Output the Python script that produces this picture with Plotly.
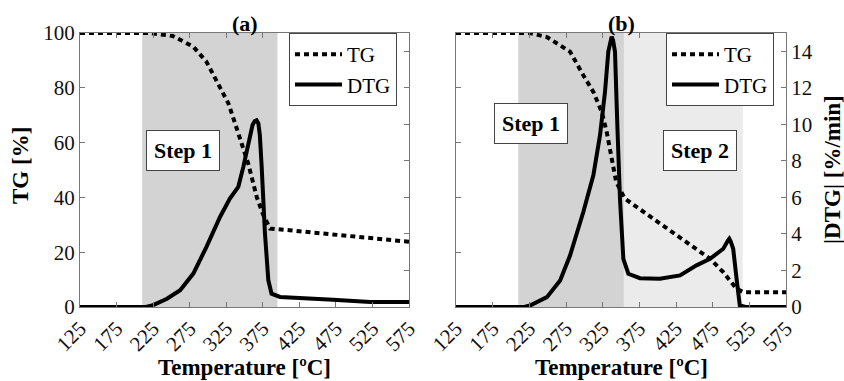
import plotly.graph_objects as go

# ---------------- data ----------------
# Panel (a)
a_tg_temp = [125, 175, 220, 252, 280, 298, 316, 328, 341.5, 355, 366.7, 375.8, 385, 412, 575]
a_tg_val = [100, 100, 100, 98.9, 95, 89.5, 80, 74.3, 63.4, 52.4, 40.2, 33.5, 28.6, 28.0, 23.8]

a_dtg_temp = [125, 175, 215, 225, 244, 262, 280, 298, 316.5, 330, 341.5, 348.4, 355, 361, 364,
              366.5, 369, 371, 373.5, 378, 382.6, 387, 398.6, 426, 471, 522, 575]
a_dtg_val = [0, 0, 0, 0.1, 0.45, 0.92, 1.83, 3.29, 4.93, 5.94, 6.58, 7.67, 8.95, 9.96, 10.18,
             10.22, 10.05, 9.4, 7.67, 4.02, 1.46, 0.73, 0.55, 0.51, 0.40, 0.27, 0.27]

# Panel (b)
b_tg_temp = [125, 175, 226, 249, 271, 280.5, 298.6, 312.3, 323.7, 330.5, 337.3, 343.5, 355, 394,
             439.6, 471.4, 489.5, 507.6, 516.8, 575]
b_tg_val = [100, 100, 100, 98.5, 95, 93.2, 84.6, 78.5, 71.2, 63.9, 54.2, 45.6, 39.6, 32.2,
            23.7, 17.6, 12.7, 6.65, 5.4, 5.4]

b_dtg_temp = [125, 175, 218, 226, 249, 267, 280.5, 298.6, 312.3, 321.4, 328.2, 332.7, 335.5, 337.3,
              339.2, 341.8, 345, 348.6, 353.2, 360, 375.9, 403, 430.5, 453, 471.4, 489.5, 496,
              497.7, 499.5, 503, 507.6, 512, 520, 575]
b_dtg_val = [0, 0, 0, 0.08, 0.54, 1.45, 2.82, 5.2, 7.21, 9.41, 11.78, 13.98, 14.6, 14.8,
             14.6, 13.98, 9.96, 5.93, 2.64, 1.82, 1.58, 1.55, 1.73, 2.28, 2.64, 3.19, 3.65,
             3.74, 3.6, 3.19, 1.55, 0.08, 0, 0]

# Step regions [start, end] in degC
a_step1 = [210, 395]
b_step1 = [210, 354]
b_step2 = [354, 516]

x_ticks = [125, 175, 225, 275, 325, 375, 425, 475, 525, 575]
tg_ticks = [0, 20, 40, 60, 80, 100]
dtg_ticks = [0, 2, 4, 6, 8, 10, 12, 14]

# label positions (temp, TG%)
a_step1_label = (266, 57)
b_step1_label = (227, 67)
b_step2_label = (458, 57)

# ---------------- figure ----------------
FONT = '"Liberation Serif", "Times New Roman", serif'
W, H = 844, 381
def px(x):
    return x / W
def py(y):
    return 1 - y / H

dom_a = [px(80), px(409)]
dom_b = [px(456), px(786)]
dom_y = [py(307), py(33)]

dot = dict(color="black", width=4, dash="5px,4px")
solid = dict(color="black", width=4)

fig = go.Figure()
fig.add_trace(go.Scatter(x=a_tg_temp, y=a_tg_val, mode="lines", line=dot, name="TG",
                         xaxis="x", yaxis="y", legend="legend"))
fig.add_trace(go.Scatter(x=a_dtg_temp, y=a_dtg_val, mode="lines", line=solid, name="DTG",
                         xaxis="x", yaxis="y2", legend="legend"))
fig.add_trace(go.Scatter(x=b_tg_temp, y=b_tg_val, mode="lines", line=dot, name="TG",
                         xaxis="x2", yaxis="y3", legend="legend2"))
fig.add_trace(go.Scatter(x=b_dtg_temp, y=b_dtg_val, mode="lines", line=solid, name="DTG",
                         xaxis="x2", yaxis="y4", legend="legend2"))

axcol = "#777"
tickfont = dict(family=FONT, size=21, color="#111")
xcommon = dict(range=[125, 575], tickvals=x_ticks, tickangle=-45, ticks="inside", ticklen=5,
               tickcolor=axcol, showline=True, linecolor=axcol, linewidth=1, mirror="ticks",
               showgrid=False, zeroline=False, tickfont=tickfont, automargin=False)
ytg = dict(range=[0, 100], tickvals=tg_ticks, ticks="inside", ticklen=5, tickcolor=axcol,
           showline=True, linecolor=axcol, linewidth=1, showgrid=False, zeroline=False,
           tickfont=tickfont, automargin=False)
ydtg = dict(range=[0, 15], tickvals=dtg_ticks, ticks="inside", ticklen=5, tickcolor=axcol,
            showline=True, linecolor=axcol, linewidth=1, showgrid=False, zeroline=False,
            tickfont=tickfont, automargin=False, side="right")

legfont = dict(family=FONT, size=21, color="black")
fig.update_layout(
    width=W, height=H, margin=dict(l=0, r=0, t=0, b=0),
    paper_bgcolor="white", plot_bgcolor="white",
    font=dict(family=FONT, size=21, color="black"),
    xaxis=dict(domain=dom_a, anchor="y", **xcommon),
    xaxis2=dict(domain=dom_b, anchor="y3", **xcommon),
    yaxis=dict(domain=dom_y, anchor="x", **ytg),
    yaxis2=dict(overlaying="y", anchor="x", showticklabels=False, **ydtg),
    yaxis3=dict(domain=dom_y, anchor="x2", showticklabels=False, **ytg),
    yaxis4=dict(overlaying="y3", anchor="x2", **ydtg),
    legend=dict(x=px(397), xanchor="right", y=py(33), yanchor="top", bgcolor="white",
                bordercolor="#444", borderwidth=1, font=legfont,
                itemwidth=47, tracegroupgap=0),
    legend2=dict(x=px(774), xanchor="right", y=py(33), yanchor="top", bgcolor="white",
                 bordercolor="#444", borderwidth=1, font=legfont,
                 itemwidth=47, tracegroupgap=0),
    showlegend=True,
)

shapes = [
    dict(type="rect", xref="x", yref="y domain", x0=a_step1[0], x1=a_step1[1], y0=0, y1=1,
         fillcolor="#d3d3d3", line=dict(width=0), layer="below"),
    dict(type="rect", xref="x2", yref="y3 domain", x0=b_step1[0], x1=b_step1[1], y0=0, y1=1,
         fillcolor="#d3d3d3", line=dict(width=0), layer="below"),
    dict(type="rect", xref="x2", yref="y3 domain", x0=b_step2[0], x1=b_step2[1], y0=0, y1=1,
         fillcolor="#ebebeb", line=dict(width=0), layer="below"),
]
fig.update_layout(shapes=shapes)

bold = dict(family=FONT, size=22, color="black")
bigbold = dict(family=FONT, size=23, color="black")
box = dict(bgcolor="white", bordercolor="#444", borderwidth=1, borderpad=7, showarrow=False,
           font=bold)
lab = dict(showarrow=False, xanchor="center", yanchor="middle", xref="paper", yref="paper")
ann = [
    dict(x=a_step1_label[0], y=a_step1_label[1], xref="x", yref="y", text="<b>Step 1</b>", **box),
    dict(x=b_step1_label[0], y=b_step1_label[1], xref="x2", yref="y3", text="<b>Step 1</b>", **box),
    dict(x=b_step2_label[0], y=b_step2_label[1], xref="x2", yref="y3", text="<b>Step 2</b>", **box),
    dict(x=sum(dom_a) / 2, y=py(23), text="<b>(a)</b>", font=bold, **lab),
    dict(x=sum(dom_b) / 2, y=py(23), text="<b>(b)</b>", font=bold, **lab),
    dict(x=sum(dom_a) / 2, y=py(367), text="<b>Temperature [ºC]</b>", font=bigbold, **lab),
    dict(x=sum(dom_b) / 2, y=py(367), text="<b>Temperature [ºC]</b>", font=bigbold, **lab),
    dict(x=px(20), y=py(166), text="<b>TG [%]</b>", textangle=-90, font=bigbold, **lab),
    dict(x=px(832), y=py(170), text="<b>|DTG| [%/min]</b>", textangle=-90, font=bigbold, **lab),
]
fig.update_layout(annotations=ann)

fig.write_html("out.html", config={"displayModeBar": False},
               post_script="document.body.style.margin='0';")
